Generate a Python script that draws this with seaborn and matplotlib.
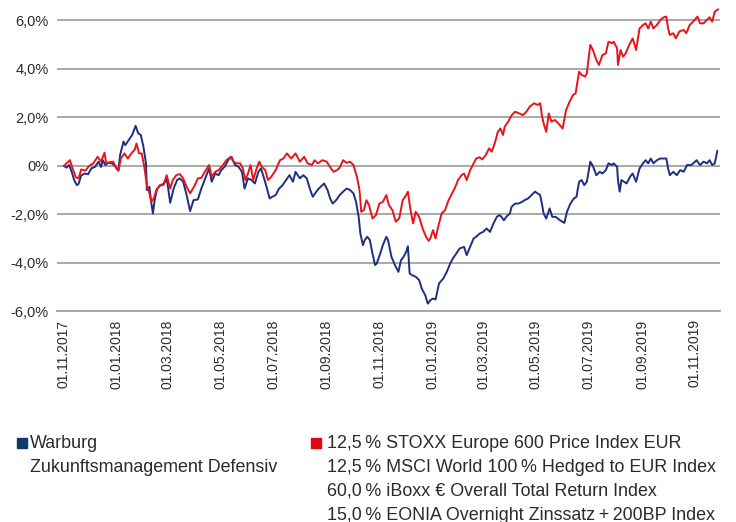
import pandas as pd
import matplotlib
matplotlib.use("Agg")
import matplotlib.pyplot as plt
import matplotlib.dates as mdates
from matplotlib.patches import Rectangle
import seaborn as sns

start = pd.Timestamp("2017-11-01")

# days after 01.11.2017 and performance in %
fund_days = [0, 3, 6, 9, 12, 15, 17, 20, 24, 28,
             32, 36, 40, 43, 45, 48, 51, 56, 60, 63,
             65, 69, 71, 75, 79, 83, 86, 89, 92, 95,
             96, 99, 101, 103, 105, 108, 112, 116, 119, 123,
             127, 131, 134, 138, 142, 146, 150, 155, 159, 162,
             165, 168, 171, 175, 179, 182, 186, 190, 194, 198,
             202, 206, 209, 213, 217, 221, 225, 228, 231, 235,
             238, 241, 245, 249, 253, 257, 261, 265, 268, 273,
             277, 281, 285, 288, 292, 295, 301, 305, 308, 311,
             315, 319, 323, 327, 331, 335, 338, 341, 343, 346,
             348, 351, 354, 357, 360, 362, 366, 369, 373, 375,
             379, 383, 387, 390, 393, 396, 398, 400, 403, 407,
             411, 414, 418, 421, 424, 427, 430, 434, 439, 443,
             447, 450, 454, 458, 463, 466, 470, 474, 477, 481,
             485, 489, 493, 497, 501, 504, 506, 509, 512, 516,
             518, 522, 526, 530, 533, 537, 541, 545, 548, 551,
             553, 555, 558, 562, 565, 569, 574, 579, 582, 586,
             590, 593, 596, 599, 602, 605, 609, 612, 616, 620,
             623, 627, 630, 634, 636, 640, 641, 643, 645, 648,
             651, 655, 658, 662, 666, 670, 673, 676, 679, 682,
             686, 690, 694, 697, 699, 701, 705, 709, 713, 717,
             721, 726, 732, 736, 740, 744, 747, 750, 753, 756]
fund_perf = [0.0, -0.08, 0.03, -0.25, -0.6, -0.8, -0.75, -0.4, -0.32, -0.35,
             -0.1, -0.05, 0.17, -0.05, 0.23, 0.03, 0.12, 0.1, -0.05, -0.2,
             0.44, 1.0, 0.85, 1.06, 1.27, 1.65, 1.34, 1.27, 0.79, 0.1,
             -1.0, -0.87, -1.49, -1.97, -1.42, -0.94, -0.8, -0.73, -0.52, -1.53,
             -0.94, -0.59, -0.52, -0.66, -1.21, -1.87, -1.42, -1.39, -0.94, -0.66,
             -0.39, -0.11, -0.66, -0.32, -0.39, -0.18, -0.04, 0.23, 0.37, 0.03,
             -0.04, -0.25, -0.94, -0.52, -0.59, -0.73, -0.25, -0.11, -0.45, -0.94,
             -1.35, -1.28, -1.21, -0.94, -0.8, -0.59, -0.39, -0.66, -0.25, -0.52,
             -0.39, -0.52, -1.0, -1.28, -1.07, -0.94, -0.73, -1.0, -1.35, -1.56,
             -1.42, -1.21, -1.07, -0.94, -1.0, -1.14, -1.49, -2.1, -2.8, -3.28,
             -3.07, -2.93, -3.07, -3.62, -4.1, -4.03, -3.62, -3.28, -2.93, -3.07,
             -3.76, -4.1, -4.38, -3.9, -3.76, -3.55, -3.32, -4.45, -4.52, -4.58,
             -4.72, -5.07, -5.34, -5.69, -5.55, -5.48, -5.52, -4.86, -4.65, -4.38,
             -4.03, -3.83, -3.62, -3.41, -3.35, -3.69, -3.35, -3.0, -2.93, -2.8,
             -2.73, -2.59, -2.73, -2.38, -2.1, -2.04, -2.1, -2.25, -2.1, -1.97,
             -1.69, -1.56, -1.56, -1.49, -1.42, -1.35, -1.21, -1.07, -1.14, -1.21,
             -1.56, -1.97, -2.18, -1.76, -2.11, -2.11, -2.25, -2.36, -1.9, -1.56,
             -1.35, -1.28, -0.66, -0.59, -0.8, -0.66, 0.17, -0.01, -0.39, -0.25,
             -0.32, -0.18, 0.1, 0.03, 0.1, -0.04, -0.59, -1.07, -0.59, -0.66,
             -0.73, -0.45, -0.32, -0.66, -0.11, 0.1, 0.23, 0.1, 0.3, 0.1,
             0.23, 0.3, 0.3, 0.3, -0.11, -0.39, -0.25, -0.39, -0.18, -0.25,
             0.03, 0.03, 0.23, 0.03, 0.17, 0.1, 0.23, 0.03, 0.1, 0.62]

bench_days = [0, 3, 7, 10, 14, 17, 20, 25, 29, 34,
              39, 43, 47, 49, 52, 57, 61, 63, 66, 70,
              74, 78, 82, 84, 87, 90, 93, 96, 99, 101,
              104, 107, 111, 115, 119, 123, 126, 130, 134, 138,
              142, 146, 151, 155, 159, 163, 168, 171, 175, 179,
              184, 188, 193, 196, 200, 204, 207, 210, 213, 216,
              219, 223, 226, 229, 233, 236, 240, 245, 250, 254,
              258, 263, 268, 273, 278, 282, 287, 290, 294, 299,
              304, 309, 312, 316, 319, 323, 327, 331, 335, 339,
              342, 344, 347, 350, 353, 357, 361, 365, 369, 373,
              376, 380, 384, 388, 392, 396, 398, 401, 404, 407,
              411, 415, 419, 422, 424, 427, 430, 433, 437, 441,
              445, 449, 452, 456, 460, 463, 466, 470, 474, 477,
              481, 484, 488, 492, 495, 499, 502, 505, 508, 510,
              514, 518, 522, 527, 531, 535, 539, 544, 548, 551,
              553, 555, 558, 561, 564, 568, 572, 577, 581, 585,
              589, 592, 596, 599, 603, 605, 609, 612, 616, 619,
              623, 627, 630, 634, 636, 640, 641, 644, 647, 650,
              654, 658, 662, 666, 670, 673, 676, 679, 682, 686,
              690, 694, 697, 699, 701, 705, 708, 712, 717, 720,
              724, 728, 733, 736, 740, 744, 747, 750, 753, 757]
bench_perf = [0.0, 0.1, 0.23, -0.11, -0.48, -0.52, -0.15, -0.2, -0.01, 0.1,
              0.37, 0.17, 0.54, 0.1, 0.14, 0.17, -0.11, -0.2, 0.3, 0.51,
              0.3, 0.51, 0.67, 0.92, 0.51, 0.51, -0.04, -0.8, -1.14, -1.49,
              -1.35, -1.0, -0.8, -0.8, -0.39, -0.94, -0.59, -0.39, -0.34, -0.52,
              -0.87, -1.14, -0.84, -0.52, -0.5, -0.25, 0.03, -0.45, -0.25, -0.18,
              0.03, 0.23, 0.37, 0.17, 0.1, 0.1, -0.11, -0.59, -0.32, 0.03,
              -0.59, -0.11, 0.17, -0.04, -0.18, -0.59, -0.45, -0.18, 0.23, 0.3,
              0.51, 0.3, 0.51, 0.17, 0.37, 0.1, 0.03, 0.23, 0.1, 0.23,
              0.17, -0.11, -0.25, -0.18, -0.08, 0.23, 0.12, 0.17, 0.03, -0.45,
              -1.0, -1.9, -1.83, -1.42, -1.62, -2.18, -2.04, -1.56, -1.49, -1.21,
              -1.62, -1.83, -2.31, -2.17, -1.42, -1.21, -1.07, -1.83, -2.38, -1.9,
              -2.11, -2.59, -2.93, -3.1, -3.0, -2.66, -3.0, -2.52, -1.97, -1.83,
              -1.42, -1.14, -0.94, -0.59, -0.39, -0.32, -0.59, -0.18, 0.1, 0.3,
              0.35, 0.26, 0.44, 0.72, 0.58, 0.99, 1.4, 1.54, 1.27, 1.61,
              1.82, 2.09, 2.23, 2.16, 2.09, 2.23, 2.44, 2.58, 2.51, 2.58,
              2.09, 1.75, 1.4, 2.16, 1.82, 1.89, 1.75, 1.54, 2.3, 2.64,
              2.92, 2.99, 3.88, 3.75, 3.68, 3.82, 4.99, 4.78, 4.37, 4.16,
              4.57, 4.64, 5.12, 5.06, 5.12, 4.85, 4.16, 4.78, 4.5, 4.64,
              4.99, 5.26, 4.78, 5.67, 5.81, 5.88, 5.67, 5.95, 5.67, 5.81,
              6.02, 6.13, 6.16, 5.67, 5.4, 5.47, 5.26, 5.54, 5.61, 5.47,
              5.81, 5.95, 6.16, 5.88, 5.88, 6.02, 6.13, 5.95, 6.36, 6.46]

fund_name = "Warburg Zukunftsmanagement Defensiv"
bench_name = "Benchmark"
fund_label = ["Warburg", "Zukunftsmanagement Defensiv"]
bench_label = ["12,5\u2009% STOXX Europe 600 Price Index EUR",
               "12,5\u2009% MSCI World 100\u2009% Hedged to EUR Index",
               "60,0\u2009% iBoxx € Overall Total Return Index",
               "15,0\u2009% EONIA Overnight Zinssatz\u2009+\u2009200BP Index"]
yticks = [-6, -4, -2, 0, 2, 4, 6]
ytick_labels = ["-6,0%", "-4,0%", "-2,0%", "0%", "2,0%", "4,0%", "6,0%"]

blue = "#1f2f80"
red = "#e8141c"
grid_col = "#a3a3a3"
text_col = "#2b2b2b"

df = pd.concat([
    pd.DataFrame({"date": start + pd.to_timedelta(fund_days, unit="D"),
                  "perf": fund_perf, "series": fund_name}),
    pd.DataFrame({"date": start + pd.to_timedelta(bench_days, unit="D"),
                  "perf": bench_perf, "series": bench_name}),
])

sns.set_style("white")
plt.rcParams["font.family"] = ["Liberation Sans", "DejaVu Sans"]

fig = plt.figure(figsize=(7.36, 5.22), dpi=100)
ax = fig.add_axes([0.0774, 0.404, 0.9008, 0.594])

for y in yticks:
    ax.axhline(y, color=grid_col, lw=1.3, zorder=0)

sns.lineplot(data=df, x="date", y="perf", hue="series",
             hue_order=[fund_name, bench_name], palette=[blue, red],
             estimator=None, linewidth=1.4, legend=False, ax=ax)

ax.set_ylim(-6, 6.8)
ax.set_xlim(start - pd.Timedelta(days=8), start + pd.Timedelta(days=759))
ax.set_yticks(yticks)
ax.set_yticklabels(ytick_labels)
ax.set_xticks(pd.date_range("2017-11-01", "2019-11-01", freq="2MS"))
ax.xaxis.set_major_formatter(mdates.DateFormatter("%d.%m.%Y"))
ax.tick_params(axis="x", rotation=90, length=4, width=1, color=grid_col,
               pad=2, labelsize=10, labelcolor=text_col, direction="out")
ax.tick_params(axis="y", length=0, pad=6, labelsize=10.5, labelcolor=text_col)
ax.set_xlabel("")
ax.set_ylabel("")
for s in ["top", "right", "left"]:
    ax.spines[s].set_visible(False)
ax.spines["bottom"].set_color(grid_col)
ax.spines["bottom"].set_linewidth(1.3)

# legend, drawn by hand to keep the square on the first line
W, H = 736, 522
leg_font = dict(family=["Liberation Sans", "DejaVu Sans"],
                size=12.9, color=text_col, va="center", ha="left")
fig.patches.append(Rectangle((17 / W, 1 - 448 / H), 10 / W, 10 / H,
                             transform=fig.transFigure, color="#0d3a6b"))
fig.patches.append(Rectangle((311 / W, 1 - 448 / H), 10 / W, 10 / H,
                             transform=fig.transFigure, color="#e30613"))
for i, line in enumerate(fund_label):
    fig.text(30 / W, 1 - (443 + 24 * i) / H, line, **leg_font)
for i, line in enumerate(bench_label):
    fig.text(327 / W, 1 - (443 + 24 * i) / H, line, **leg_font)

fig.savefig("out.png", dpi=100)
